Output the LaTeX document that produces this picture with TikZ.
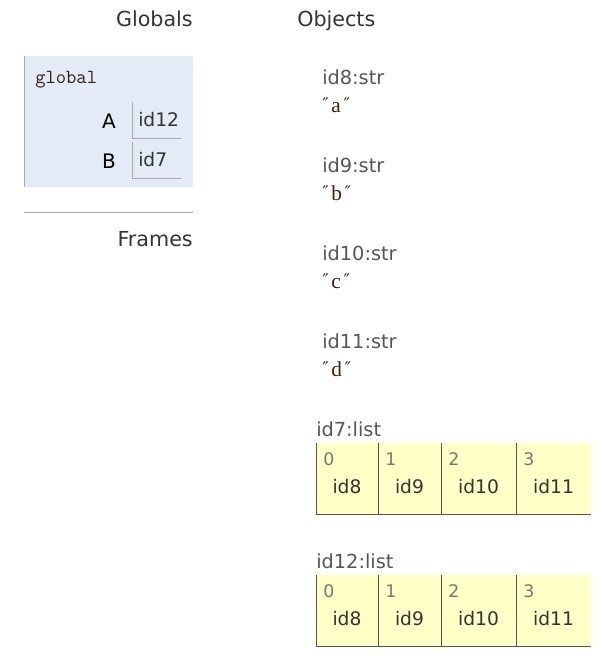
\documentclass[tikz,border=0pt]{standalone}
\usepackage{fontspec}
\setmainfont{DejaVu Sans}
\newfontfamily\letterfont{Liberation Serif}
\definecolor{headgray}{HTML}{333333}
\definecolor{labelgray}{HTML}{555555}
\definecolor{idxgray}{HTML}{777777}
\definecolor{linegray}{HTML}{AAAAAA}
\definecolor{framefill}{HTML}{E2EBF6}
\definecolor{listfill}{HTML}{FFFFC6}
\definecolor{strbrown}{HTML}{3B1F14}

\begin{document}
\begin{tikzpicture}[x=0.75pt,y=-0.75pt,
  head/.style={font=\fontsize{15.5}{18}\selectfont, text=headgray, inner sep=0pt},
  objlabel/.style={font=\fontsize{14.5}{17}\selectfont, text=labelgray, inner sep=0pt, anchor=base west},
  varname/.style={font=\fontsize{15}{18}\selectfont, text=black, inner sep=0pt, anchor=base east},
  refval/.style={font=\fontsize{14}{17}\selectfont, text=headgray, inner sep=0pt},
  idx/.style={font=\fontsize{13}{15}\selectfont, text=idxgray, inner sep=0pt, anchor=base west},
  strval/.style={inner sep=0pt, anchor=base west, text=strbrown}]
\useasboundingbox (0,0) rectangle (606,660);

% headers
\node[head, anchor=base east] (globals) at (193,26.5) {Globals};
\node[head, anchor=base west] (objects) at (297,26.5) {Objects};
\node[head, anchor=base east] (frames) at (193,246.5) {Frames};

% global frame
\fill[framefill] (24,56) rectangle (193,187);
\draw[linegray] (24,56) -- (24,187);
\draw[linegray] (24,212) -- (193,212);
\node[inner sep=0pt, anchor=base west, font=\ttfamily\fontsize{15}{16}\selectfont, text=strbrown] (global) at (35,84) {global};
\node[varname] (varA) at (116,128.5) {A};
\node[varname] (varB) at (116,168.5) {B};
\draw[linegray] (132,102) -- (132,138) -- (181,138);
\draw[linegray] (132,142) -- (132,178) -- (181,178);
\node[refval, anchor=base west] (refA) at (138,126.7) {id12};
\node[refval, anchor=base west] (refB) at (138,166) {id7};

% strings
\foreach \n/\s/\y in {8/a/84.3, 9/b/172.3, 10/c/260, 11/d/348.3} {
  \node[objlabel] (str\n) at (322,\y) {id\n:str};
  \node[strval] (val\n) at (322,\y+28.5)
    {\fontsize{13}{15}\selectfont\raisebox{1.5pt}{″}\kern2pt{\letterfont\fontsize{16}{18}\selectfont\s}\kern2pt\raisebox{1.5pt}{″}};
}

% lists
\foreach \lst/\t in {7/443, 12/575} {
  \node[objlabel] (list\lst) at (316,\t-7) {id\lst:list};
  \foreach \i/\l/\r/\v in {0/316/378/id8, 1/378/441/id9, 2/441/516/id10, 3/516/591/id11} {
    \fill[listfill] (\l,\t) rectangle (\r,\t+71);
    \draw[labelgray] (\l,\t) -- (\l,\t+71) -- (\r,\t+71);
    \node[idx] (idx\lst-\i) at (\l+7,\t+22.3) {\i};
    \node[refval, anchor=base] (item\lst-\i) at ({(\l+\r)/2},\t+50.3) {\v};
  }
}
\end{tikzpicture}
\end{document}
